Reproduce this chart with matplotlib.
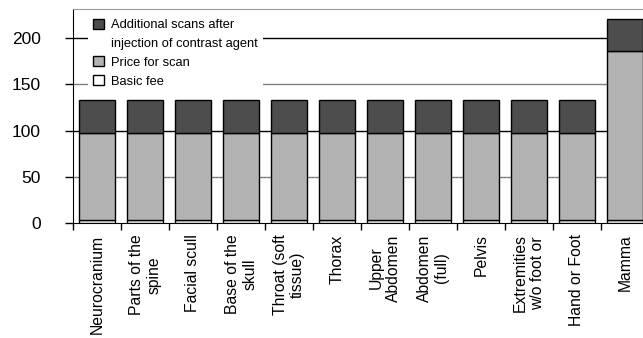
import matplotlib.pyplot as plt
import matplotlib.patches as mpatches
import numpy as np

plt.rcParams['font.family'] = ['Liberation Sans', 'DejaVu Sans']

# Price components per examination
categories = ['Neurocranium', 'Parts of the\nspine', 'Facial scull', 'Base of the\nskull',
              'Throat (soft\ntissue)', 'Thorax', 'Upper\nAbdomen', 'Abdomen\n(full)',
              'Pelvis', 'Extremities\nw/o foot or', 'Hand or Foot', 'Mamma']
basic_fee = [4, 4, 4, 4, 4, 4, 4, 4, 4, 4, 4, 4]
price_scan = [93, 93, 93, 93, 93, 93, 93, 93, 93, 93, 93, 182]
additional = [36, 36, 36, 36, 36, 36, 36, 36, 36, 36, 36, 35]

fig = plt.figure(figsize=(6.43, 3.38), dpi=100)
ax = fig.add_axes([73 / 643, 1 - 223.3 / 338, 576 / 643, 214 / 338])

x = np.arange(len(categories))
w = 0.77
b1 = ax.bar(x, basic_fee, w, color='white', edgecolor='black', linewidth=1, zorder=3)
b2 = ax.bar(x, price_scan, w, bottom=basic_fee, color='#b3b3b3', edgecolor='black',
            linewidth=1, zorder=3)
bottom2 = np.array(basic_fee) + np.array(price_scan)
b3 = ax.bar(x, additional, w, bottom=bottom2, color='#4d4d4d', edgecolor='black',
            linewidth=1, zorder=3)

ax.set_xlim(-0.5, len(categories) - 0.5)
ax.set_ylim(0, 231)

# horizontal grid: dark at 100/200, grey at 50/150
for yv in [50, 150]:
    ax.axhline(yv, color='#808080', linewidth=1, zorder=1)
for yv in [100, 200]:
    ax.axhline(yv, color='black', linewidth=1, zorder=1)

ax.set_yticks([0, 50, 100, 150, 200])
ax.tick_params(axis='y', labelsize=12.5, length=6, pad=17, width=1)

# ticks on category boundaries, labels at the centres
ax.set_xticks(np.arange(len(categories) + 1) - 0.5)
ax.set_xticklabels([])
ax.tick_params(axis='x', which='major', length=5, width=1)
ax.set_xticks(x, minor=True)
ax.set_xticklabels(categories, minor=True, rotation=90, fontsize=11.3,
                   ha='center', va='top', multialignment='center')
ax.tick_params(axis='x', which='minor', length=0, pad=8)

ax.spines['right'].set_visible(False)
ax.spines['top'].set_color('#999999')
for s in ['left', 'bottom']:
    ax.spines[s].set_color('black')

# second line of the first label gets an empty handle so the box sits on line one
blank = mpatches.Patch(facecolor='none', edgecolor='none')
leg = ax.legend([b3[0], blank, b2[0], b1[0]],
                ['Additional scans after', 'injection of contrast agent', 'Price for scan',
                 'Basic fee'],
                loc='upper left', bbox_to_anchor=(88 / 643, 1 - 14 / 338),
                bbox_transform=fig.transFigure, fontsize=9.3, frameon=True,
                fancybox=False, edgecolor='none', facecolor='white', framealpha=1,
                borderpad=0.35, handlelength=0.85, handleheight=0.85, handletextpad=0.6,
                labelspacing=0.48, borderaxespad=0)
leg.set_zorder(5)

fig.savefig('out.png', dpi=100)
